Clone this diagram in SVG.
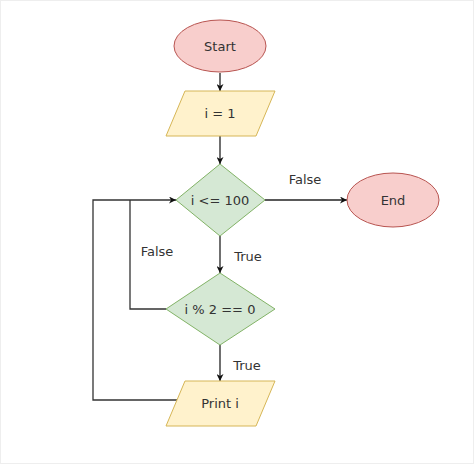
<svg xmlns="http://www.w3.org/2000/svg" width="474" height="464" viewBox="0 0 474 464">
  <style>
    .term { fill: #f8cecc; stroke: #b85450; stroke-width: 1; }
    .io { fill: #fff2cc; stroke: #d6b656; stroke-width: 1; }
    .dec { fill: #d5e8d4; stroke: #82b366; stroke-width: 1; }
    .edge { fill: none; stroke: #222; stroke-width: 1.3; }
    .loop { fill: none; stroke: #333; stroke-width: 1.3; }
    text { font-family: "DejaVu Sans", Verdana, sans-serif; font-size: 13px; fill: #333; text-anchor: middle; }
  </style>
  <defs>
    <marker id="arrow" viewBox="0 0 10 10" refX="10" refY="5" markerWidth="7" markerHeight="7" markerUnits="userSpaceOnUse" orient="auto">
      <path d="M0,0 L10,5 L0,10 L3,5 Z" fill="#111"/>
    </marker>
  </defs>
  <rect x="0.5" y="0.5" width="473" height="463" fill="#ffffff" stroke="#eeeeee" stroke-width="1"/>

  <g id="connectors">
    <path class="edge" d="M220,73 L220,91" marker-end="url(#arrow)"/>
    <path class="edge" d="M220,136 L220,164" marker-end="url(#arrow)"/>
    <path class="edge" d="M220,236 L220,273" marker-end="url(#arrow)"/>
    <path class="edge" d="M220,345 L220,381" marker-end="url(#arrow)"/>
    <path class="edge" d="M265,200 L347,200" marker-end="url(#arrow)"/>
    <path class="loop" d="M177,400 L93,400 L93,200 L176,200" marker-end="url(#arrow)"/>
    <path class="loop" d="M166,309 L130,309 L130,200"/>
    <text x="305" y="184">False</text>
    <text x="248" y="261">True</text>
    <text x="157" y="256">False</text>
    <text x="247" y="370">True</text>
  </g>

  <g id="start">
    <ellipse class="term" cx="220" cy="46" rx="46" ry="26"/>
    <text x="220" y="51">Start</text>
  </g>
  <g id="init">
    <polygon class="io" points="185,91 275,91 256,136 166,136"/>
    <text x="220" y="118">i = 1</text>
  </g>
  <g id="cond1">
    <polygon class="dec" points="220,164 265,200 220,236 176,200"/>
    <text x="220" y="205">i &lt;= 100</text>
  </g>
  <g id="cond2">
    <polygon class="dec" points="220,273 275,309 220,345 166,309"/>
    <text x="220" y="314">i % 2 == 0</text>
  </g>
  <g id="print">
    <polygon class="io" points="185,381 275,381 256,426 166,426"/>
    <text x="220" y="408">Print i</text>
  </g>
  <g id="end">
    <ellipse class="term" cx="393" cy="200" rx="46" ry="27"/>
    <text x="393" y="205">End</text>
  </g>
</svg>
